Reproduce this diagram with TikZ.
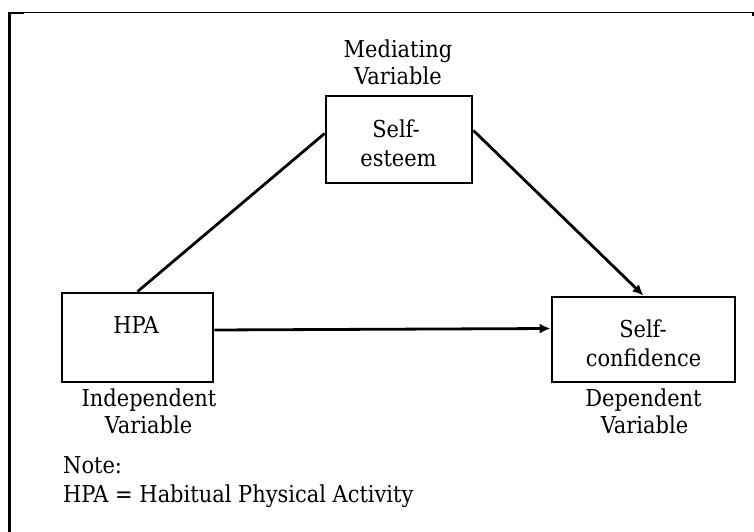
\documentclass[tikz,border=0pt]{standalone}
\usepackage{fontspec}
\setmainfont{DejaVu Serif Condensed}
\usetikzlibrary{arrows.meta,calc}
\begin{document}
\begin{tikzpicture}[x=1bp,y=-1bp,
  box/.style={draw=black,line width=2.8bp,minimum width=#1,inner sep=0pt},
  lbl/.style={anchor=base,inner sep=0pt,font=\fontsize{23.3bp}{28bp}\selectfont},
  conn/.style={line width=2.8bp},
  arr/.style={line width=2.8bp,-{Latex[length=11bp,width=10bp]}}]
\useasboundingbox (0,0) rectangle (754,532);
% frame
\draw[line width=1.2bp] (9,12.5) -- (753,12.5);
\draw[line width=3bp] (9.5,11.9) -- (9.5,532);
\draw[line width=2bp] (9,13) -- (24,13);
\draw[line width=1.2bp] (753,12) -- (753,16);
% boxes
\node[box=146bp,minimum height=87bp] (se) at (399,139.5) {};
\node[box=151bp,minimum height=89bp] (hpa) at (137.5,337.5) {};
\node[box=183bp,minimum height=85bp] (sc) at (643.5,339.5) {};
% texts
\node[lbl] (m1) at (398,58) {Mediating};
\node[lbl] (m2) at (398,85) {Variable};
\node[lbl] (se1) at (396,138) {Self-};
\node[lbl] (se2) at (398.5,167) {esteem};
\node[lbl] (h1) at (136,333) {HPA};
\node[lbl] (sc1) at (643,337) {Self-};
\node[lbl] (sc2) at (643.5,366) {confidence};
\node[lbl] (i1) at (149,406) {Independent};
\node[lbl] (i2) at (148.5,433) {Variable};
\node[lbl] (d1) at (643.5,406) {Dependent};
\node[lbl] (d2) at (644.5,433) {Variable};
\node[lbl,anchor=base west] (n1) at (63,473) {Note:};
\node[lbl,anchor=base west] (n2) at (63,502) {HPA = Habitual Physical Activity};
% connectors
\draw[conn] (hpa.north) -- ($(se.west)+(0,-6)$);
\draw[arr] ($(se.east)+(0,-9)$) -- (sc.north);
\draw[arr] ($(hpa.east)+(0,-7.5)$) -- ($(sc.west)+(0,-11)$);
\end{tikzpicture}
\end{document}
